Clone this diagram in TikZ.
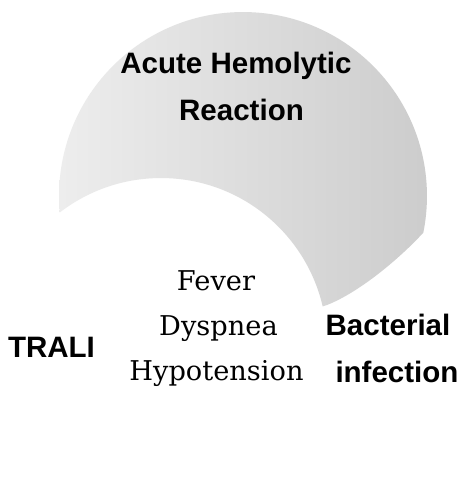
\documentclass[tikz,border=0pt]{standalone}
\usepackage{fontspec}
\setmainfont{DejaVu Serif}
\newfontfamily\setfont{Liberation Sans}
\usetikzlibrary{positioning}

\begin{document}
\begin{tikzpicture}[
  x=0.02cm, y=-0.02cm,
  setname/.style={font=\setfont\bfseries\fontsize{16.8}{20}\selectfont,
                  inner sep=0pt, anchor=base},
  symptom/.style={font=\fontsize{15.5}{19}\selectfont, inner sep=0pt, anchor=base}
]
  % page
  \useasboundingbox[fill=white] (0,0) rectangle (462,498);
  \coordinate (topc) at (243,196);
  \coordinate (tralic) at (161,344);

  % shaded part of the hemolytic set
  \begin{scope}[even odd rule]
    \clip (topc) circle [radius=3.68cm];
    \clip (0,0) -- (462,0) -- (462,226) -- (423,233)
      .. controls (400,258) and (360,292) .. (327,305) -- (250,330) -- (250,498)
      -- (0,498) -- cycle;
    \clip (-20,-20) rectangle (480,520) (tralic) circle [radius=3.32cm];
    \shade[left color=black!5, right color=black!21] (0,0) rectangle (462,498);
  \end{scope}

  % set labels
  \node[setname] (ahr1) at (236,73) {Acute Hemolytic};
  \node[setname] (ahr2) at (241.5,120) {Reaction};
  \node[setname] (trali) at (51.5,357) {TRALI};
  \node[setname] (bact1) at (388,335) {Bacterial};
  \node[setname] (bact2) at (397,382) {infection};

  % common symptoms
  \node[symptom] (fever) at (216,290) {Fever};
  \node[symptom] (dysp) at (218.5,335) {Dyspnea};
  \node[symptom] (hypo) at (216.5,380) {Hypotension};
\end{tikzpicture}
\end{document}
